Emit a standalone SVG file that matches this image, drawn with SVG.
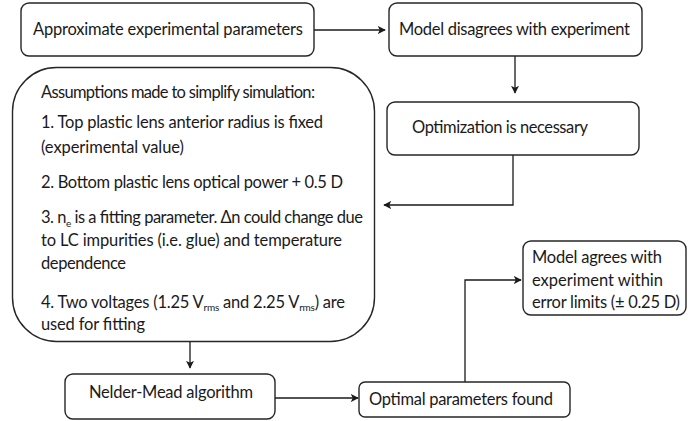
<svg xmlns="http://www.w3.org/2000/svg" width="688" height="421" viewBox="0 0 688 421">
  <style>
    .box { fill: #ffffff; stroke: #262626; stroke-width: 1.4; }
    .wire { fill: none; stroke: #1a1a1a; stroke-width: 1.3; }
    text { font-family: Lato, "Liberation Sans", sans-serif; font-size: 16.5px; fill: #1a1a1a; }
    .sub { font-size: 10px; }
  </style>
  <defs>
    <marker id="arrow" viewBox="0 0 10 10" refX="9" refY="5" markerWidth="8" markerHeight="8" markerUnits="userSpaceOnUse" orient="auto">
      <path d="M0,0 L10,5 L0,10 L2.5,5 z" fill="#1a1a1a"/>
    </marker>
  </defs>
  <rect width="688" height="421" fill="#ffffff"/>

  <g id="connectors">
    <line class="wire" x1="314" y1="30" x2="385" y2="30" marker-end="url(#arrow)"/>
    <line class="wire" x1="515" y1="56" x2="515" y2="93" marker-end="url(#arrow)"/>
    <polyline class="wire" points="513,155 513,205 384,205" marker-end="url(#arrow)"/>
    <line class="wire" x1="190" y1="342" x2="190" y2="368" marker-end="url(#arrow)"/>
    <line class="wire" x1="275" y1="398" x2="358" y2="398" marker-end="url(#arrow)"/>
    <polyline class="wire" points="465,382 465,280 521,280" marker-end="url(#arrow)"/>
  </g>

  <g id="approx-params">
    <rect class="box" x="21" y="3" width="293" height="53" rx="8"/>
    <text x="33" y="35" textLength="270">Approximate experimental parameters</text>
  </g>

  <g id="model-disagrees">
    <rect class="box" x="389" y="3" width="253" height="53" rx="8"/>
    <text x="399" y="35" textLength="231">Model disagrees with experiment</text>
  </g>

  <g id="optimization">
    <rect class="box" x="387" y="102" width="252" height="53" rx="8"/>
    <text x="412" y="133" textLength="176">Optimization is necessary</text>
  </g>

  <g id="assumptions">
    <rect class="box" x="12.5" y="67.5" width="362" height="274" rx="44"/>
    <text x="41" y="98" textLength="274">Assumptions made to simplify simulation:</text>
    <text x="41" y="128" textLength="282">1. Top plastic lens anterior radius is fixed</text>
    <text x="41" y="153" textLength="143">(experimental value)</text>
    <text x="41" y="188" textLength="302">2. Bottom plastic lens optical power + 0.5 D</text>
    <text x="41" y="223" textLength="322">3. n<tspan class="sub" dy="4">e</tspan><tspan dy="-4"> is a fitting parameter. Δn could change due</tspan></text>
    <text x="41" y="246" textLength="301">to LC impurities (i.e. glue) and temperature</text>
    <text x="41" y="269" textLength="85">dependence</text>
    <text x="41" y="308" textLength="304">4. Two voltages (1.25 V<tspan class="sub" dy="3">rms</tspan><tspan dy="-3"> and 2.25 V</tspan><tspan class="sub" dy="3">rms</tspan><tspan dy="-3">) are</tspan></text>
    <text x="41" y="330" textLength="104">used for fitting</text>
  </g>

  <g id="nelder-mead">
    <rect class="box" x="65" y="374" width="210" height="45" rx="8"/>
    <text x="89" y="398" textLength="164">Nelder-Mead algorithm</text>
  </g>

  <g id="optimal-found">
    <rect class="box" x="359" y="382" width="211" height="35" rx="6"/>
    <text x="369" y="405" textLength="184">Optimal parameters found</text>
  </g>

  <g id="model-agrees">
    <rect class="box" x="523" y="241" width="163" height="74" rx="8"/>
    <text x="532" y="263" textLength="130">Model agrees with</text>
    <text x="532" y="286" textLength="131">experiment within</text>
    <text x="532" y="308" textLength="148">error limits (± 0.25 D)</text>
  </g>
</svg>
